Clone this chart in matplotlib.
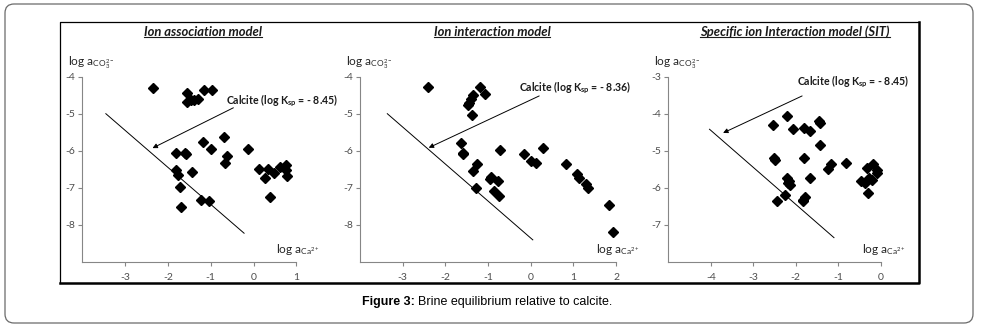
import matplotlib
matplotlib.use("Agg")
import matplotlib.pyplot as plt
from matplotlib.patches import FancyBboxPatch
from matplotlib.lines import Line2D
from matplotlib.transforms import IdentityTransform
import numpy as np

plt.rcParams['font.family'] = ['Lato', 'DejaVu Sans']
plt.rcParams['mathtext.fontset'] = 'custom'
plt.rcParams['mathtext.rm'] = 'Lato'
plt.rcParams['mathtext.it'] = 'Lato:italic'
plt.rcParams['mathtext.bf'] = 'Lato:bold'

# ---------------- data ----------------
titles = ["Ion association model", "Ion interaction model",
          "Specific ion Interaction model (SIT)"]
log_ksp = [-8.45, -8.36, -8.45]

ca1 = [-2.34, -1.55, -1.55, -1.47, -1.40, -1.30, -1.15, -0.96, -1.18, -1.00,
       -0.68, -0.14, -1.82, -1.60, -1.58, -1.81, -1.77, -1.43, -1.72, -1.70,
       -1.22, -1.05, -0.61, -0.67, 0.13, 0.33, 0.27, 0.47, 0.39, 0.61, 0.75,
       0.76, 0.78]
co1 = [-4.30, -4.44, -4.69, -4.64, -4.62, -4.59, -4.36, -4.36, -5.77, -5.95,
       -5.62, -5.95, -6.06, -6.06, -6.10, -6.51, -6.67, -6.57, -6.98, -7.53,
       -7.33, -7.37, -6.14, -6.32, -6.49, -6.49, -6.75, -6.61, -7.25, -6.44,
       -6.38, -6.53, -6.69]

ca2 = [-2.41, -1.19, -1.06, -1.34, -1.40, -1.44, -1.46, -1.38, -1.63, -1.59,
       -1.59, -0.72, -1.25, -1.36, -1.28, -0.93, -0.95, -0.77, -0.87, -0.75,
       -0.16, 0.00, 0.13, 0.30, 0.83, 1.09, 1.13, 1.30, 1.34, 1.84, 1.92]
co2 = [-4.29, -4.29, -4.47, -4.49, -4.61, -4.70, -4.77, -5.04, -5.80, -6.05,
       -6.10, -5.97, -6.37, -6.55, -7.00, -6.71, -6.76, -6.81, -7.10, -7.23,
       -6.10, -6.28, -6.32, -5.92, -6.37, -6.64, -6.73, -6.91, -7.00, -7.47,
       -8.20]

ca3 = [-2.53, -2.20, -2.06, -1.81, -1.66, -1.46, -1.44, -1.42, -2.51, -2.49,
       -1.80, -2.21, -2.16, -2.13, -2.18, -1.66, -1.25, -1.18, -0.82, -0.33,
       -0.17, -0.08, -0.08, -0.47, -0.38, -0.28, -0.20, -0.31, -2.43, -2.26,
       -1.82, -1.79, -1.84]
co3 = [-4.30, -4.05, -4.41, -4.39, -4.46, -4.21, -4.26, -4.85, -5.21, -5.25,
       -5.20, -5.75, -5.82, -5.93, -5.87, -5.75, -5.50, -5.36, -5.32, -5.48,
       -5.35, -5.52, -5.59, -5.82, -5.88, -5.75, -5.79, -6.15, -6.36, -6.21,
       -6.32, -6.25, -6.36]

ca_all = [ca1, ca2, ca3]
co_all = [co1, co2, co3]

# calcite line extent (log aCa2+) per panel
line_x = [[-3.45, -0.22], [-3.36, 0.05], [-4.03, -1.10]]
# annotation arrow: tail, head
arrow_tail = [(-0.47, -4.84), (0.20, -4.52), (-1.85, -3.52)]
arrow_head = [(-2.36, -5.93), (-2.39, -5.92), (-3.71, -4.52)]
label_pos = [(-0.65, -4.64), (-0.27, -4.29), (-1.98, -3.15)]

xlims = [(-4, 1), (-4, 2), (-5, 0)]
ylims = [(-9, -4), (-9, -4), (-8, -3)]
xticks = [[-3, -2, -1, 0, 1], [-3, -2, -1, 0, 1, 2], [-4, -3, -2, -1, 0]]
yticks = [[-8, -7, -6, -5, -4], [-8, -7, -6, -5, -4], [-7, -6, -5, -4, -3]]

W, H = 981, 326
fig = plt.figure(figsize=(W / 100, H / 100), dpi=100)

# axes rectangles in pixels: left, right
ax_px = [(82.3, 296.3), (360.0, 616.0), (668.3, 880.7)]
top_px, bot_px = 76.7, 261.7
title_cx = [203, 492, 795]

gray = '#868686'
tick_col = '#4d4d4d'

for i in range(3):
    l, r = ax_px[i]
    ax = fig.add_axes([l / W, (H - bot_px) / H, (r - l) / W, (bot_px - top_px) / H])
    ax.set_xlim(*xlims[i])
    ax.set_ylim(*ylims[i])
    ax.set_xticks(xticks[i])
    ax.set_yticks(yticks[i])
    ax.set_xticklabels([f"{v:d}" if v >= 0 else f"-{abs(v):d}" for v in xticks[i]])
    ax.set_yticklabels([f"-{abs(v):d}" for v in yticks[i]])
    for s in ['top', 'right']:
        ax.spines[s].set_visible(False)
    for s in ['left', 'bottom']:
        ax.spines[s].set_color(gray)
        ax.spines[s].set_linewidth(0.8)
    ax.tick_params(axis='both', colors=gray, labelcolor=tick_col, length=3,
                   width=0.8, direction='out', labelsize=7.5)
    ax.tick_params(axis='x', pad=5)
    ax.tick_params(axis='y', pad=2)
    ax.patch.set_alpha(0)

    # data points
    ax.plot(ca_all[i], co_all[i], linestyle='none', marker='D', ms=5.0,
            color='black', clip_on=False, zorder=3)

    # calcite solubility line
    lx = np.array(line_x[i])
    ax.plot(lx, log_ksp[i] - lx, color='black', lw=0.7, zorder=2)

    # arrow + label
    ax.annotate('', xy=arrow_head[i], xytext=arrow_tail[i],
                arrowprops=dict(arrowstyle='-|>', color='black', lw=0.7,
                                mutation_scale=7, shrinkA=0, shrinkB=0),
                annotation_clip=False)
    ks = f"{log_ksp[i]:.2f}".replace('-', '')
    ax.text(label_pos[i][0], label_pos[i][1],
            r'Calcite (log K$_{\mathregular{sp}}$ = - ' + ks + ')',
            fontsize=7.6, fontweight='bold', ha='left', va='center',
            color='#1a1a1a', clip_on=False)

    # axis labels
    x0, x1 = xlims[i]
    y0, y1 = ylims[i]
    ax.text(x0 - 14.5 / 42.7, y1 + 14.5 / 37.0,
            r'log a$_{\mathregular{CO}_3^{2-}}$', fontsize=8.6,
            ha='left', va='center', color='#262626', clip_on=False)
    ca_lab_x = [0.53, 1.52, -0.45][i]
    ax.text(ca_lab_x, y0 + 0.32, r'log a$_{\mathregular{Ca}^{2+}}$', fontsize=8.6,
            ha='left', va='center', color='#262626', clip_on=False)

    # title
    fig.text(title_cx[i] / W, (H - 31.5) / H, titles[i], fontsize=9.4,
             fontweight='bold', fontstyle='italic', ha='center', va='center',
             color='#1a1a1a')

# inner frame (pixel coordinates, origin bottom-left)
idt = IdentityTransform()
L, R, T, B = 60, 919, H - 22, H - 283
fig.add_artist(Line2D([L, L, R], [B, T, T], color='black', lw=0.9, transform=idt))
fig.add_artist(Line2D([L, R, R], [B, B, T], color='black', lw=1.8, transform=idt))

# outer rounded frame
fig.add_artist(FancyBboxPatch((5, 3), 968, 319,
                              boxstyle='round,pad=0,rounding_size=9',
                              transform=idt, fill=False, edgecolor='#6a6a6a',
                              lw=0.9))

# caption
fig.canvas.draw()
renderer = fig.canvas.get_renderer()
cap_y = (H - 301.5) / H
t1 = fig.text(362 / W, cap_y, "Figure 3:", fontsize=9.0, fontweight='bold',
              family=['Liberation Sans'], ha='left', va='center')
fig.canvas.draw()
bb = t1.get_window_extent(renderer)
fig.text((bb.x1 + 3) / W, cap_y, "Brine equilibrium relative to calcite.",
         fontsize=9.0, family=['Liberation Sans'], ha='left', va='center')

# underline titles
fig.canvas.draw()
for t in list(fig.texts):
    if t.get_text() in titles:
        e = t.get_window_extent(renderer)
        fig.add_artist(Line2D([e.x0, e.x1], [e.y0 + 1, e.y0 + 1], color='#1a1a1a',
                              lw=0.8, transform=idt))

fig.savefig("out.png", dpi=100)
